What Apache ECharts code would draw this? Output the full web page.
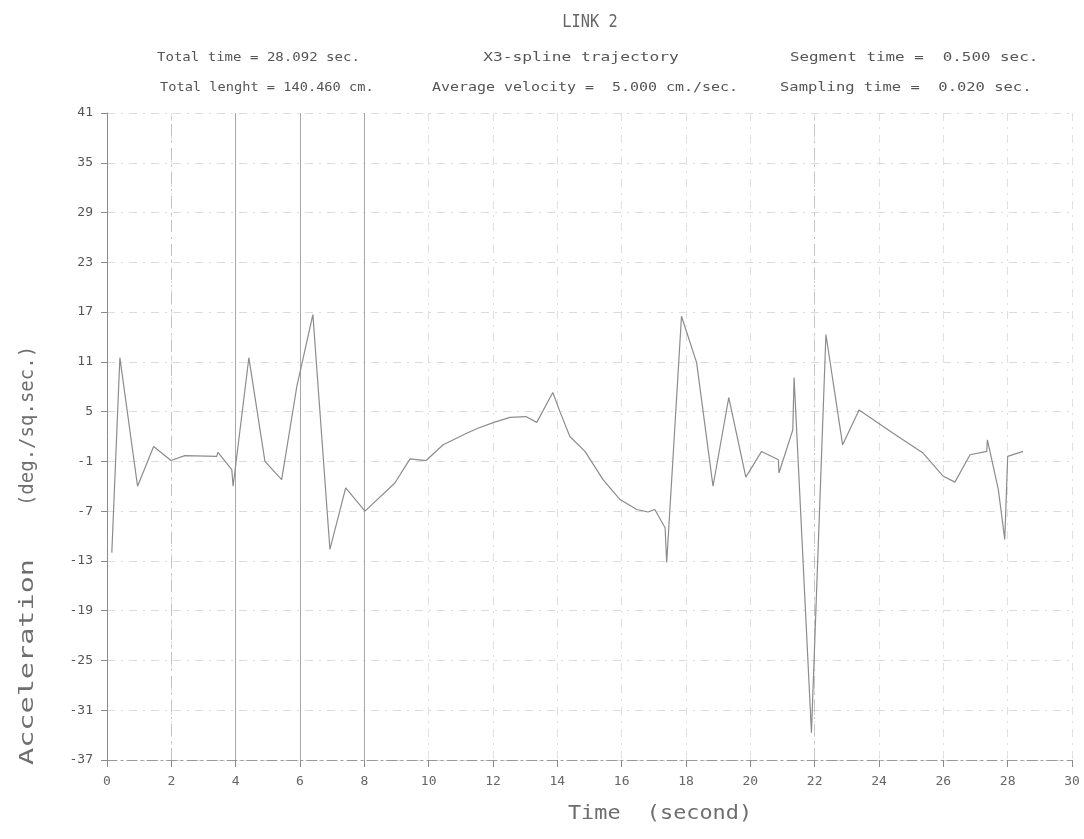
<!DOCTYPE html>
<html>
<head>
<meta charset="utf-8">
<title>LINK 2</title>
<script src="https://cdn.jsdelivr.net/npm/echarts@6/dist/echarts.min.js"></script>
<style>
  html, body { margin: 0; padding: 0; background: #fff; }
  #chart { width: 1084px; height: 839px; }
</style>
</head>
<body>
<div id="chart"></div>
<script>
// Link 2 joint acceleration along an X3-spline trajectory
const timeSec = [0.15, 0.40, 0.95, 1.45, 1.99, 2.42, 3.41, 3.45, 3.88, 3.92,
  4.41, 4.91, 5.43, 5.90, 6.40, 6.93, 7.42, 8.02, 8.95, 9.42,
  9.92, 10.45, 11.18, 11.53, 12.03, 12.53, 13.02, 13.36, 13.86, 14.08,
  14.39, 14.86, 15.42, 15.95, 16.47, 16.82, 17.03, 17.35, 17.40, 17.86,
  18.33, 18.84, 19.33, 19.86, 20.35, 20.87, 20.89, 21.32, 21.36, 21.90,
  22.35, 22.87, 23.38, 24.44, 25.37, 26.00, 26.36, 26.83, 27.35, 27.37,
  27.71, 27.91, 28.00, 28.48];
const accel = [-12.0, 11.5, -4.0, 0.8, -0.9, -0.3, -0.4, 0.1, -2.0, -4.0,
  11.5, -1.0, -3.2, 8.0, 16.7, -11.6, -4.2, -7.0, -3.6, -0.7,
  -0.9, 1.0, 2.4, 3.0, 3.7, 4.3, 4.4, 3.7, 7.3, 5.0,
  2.0, 0.2, -3.2, -5.6, -6.8, -7.1, -6.8, -9.0, -13.2, 16.5,
  10.9, -4.0, 6.7, -2.9, 0.2, -0.8, -2.4, 2.8, 9.1, -33.7,
  14.3, 1.0, 5.2, 2.4, 0.0, -2.8, -3.5, -0.2, 0.2, 1.6,
  -4.4, -10.4, -0.4, 0.2];

const yTicks = [-37, -31, -25, -19, -13, -7, -1, 5, 11, 17, 23, 29, 35, 41];
const xTicks = [0, 2, 4, 6, 8, 10, 12, 14, 16, 18, 20, 22, 24, 26, 28, 30];
const strongVerticals = [4, 6, 8];
const lightVerticals = [2, 22];

const titleText = 'LINK 2';
const headerLeft = ['Total time = 28.092 sec.', 'Total lenght = 140.460 cm.'];
const headerMid = ['X3-spline trajectory', 'Average velocity =  5.000 cm./sec.'];
const headerRight = ['Segment time =  0.500 sec.', 'Sampling time =  0.020 sec.'];
const xName = 'Time  (second)';
const yNameA = 'Acceleration';
const yNameB = '(deg./sq.sec.)';

const MONO = '"DejaVu Sans Mono", "Liberation Mono", monospace';
const points = timeSec.map((t, i) => [t, accel[i]]);

const chart = echarts.init(document.getElementById('chart'), null, { renderer: 'canvas' });

function header(text, x, y, align, sx) {
  return {
    type: 'text', x: x, y: y, scaleX: sx, scaleY: 1,
    style: { text: text, textAlign: align, textVerticalAlign: 'middle',
      fontFamily: MONO, fontSize: 13, fill: '#555' }
  };
}

function axisName(text, x, y, rot, sx) {
  return {
    type: 'text', x: x, y: y, rotation: rot, scaleX: sx, scaleY: 1,
    style: { text: text, textAlign: 'center', textVerticalAlign: 'middle',
      fontFamily: MONO, fontSize: 19, fill: '#6e6e6e' }
  };
}

chart.setOption({
  backgroundColor: '#ffffff',
  animation: false,
  grid: { left: 107, right: 12, top: 113, bottom: 79 },
  xAxis: {
    type: 'value',
    min: 0, max: 30, interval: 2,
    axisLine: { show: true, onZero: false, lineStyle: { color: '#9a9a9a', width: 1, type: [10, 4, 2, 4] } },
    axisTick: { show: true, length: 7, lineStyle: { color: '#8a8a8a' } },
    axisLabel: { color: '#666', fontFamily: MONO, fontSize: 13, margin: 15,
      formatter: v => String(v) },
    splitLine: { show: true, lineStyle: { color: '#e0e0e0', width: 1, type: [8, 6, 2, 6] } }
  },
  yAxis: {
    type: 'value',
    min: -37, max: 41, interval: 6,
    axisLine: { show: true, onZero: false, lineStyle: { color: '#8a8a8a', width: 1 } },
    axisTick: { show: true, length: 6, lineStyle: { color: '#8a8a8a' } },
    axisLabel: { color: '#555', fontFamily: MONO, fontSize: 13, margin: 14,
      formatter: v => String(v) },
    splitLine: { show: true, lineStyle: { color: '#dcdcdc', width: 1, type: [8, 6, 2, 6] } }
  },
  series: [
    {
      type: 'line',
      data: points,
      showSymbol: false,
      lineStyle: { color: '#8c8c8c', width: 1.2 },
      z: 5,
      markLine: {
        silent: true,
        symbol: 'none',
        label: { show: false },
        data: strongVerticals.map(x => ({ xAxis: x, lineStyle: { color: '#a8a8a8', width: 1, type: 'solid' } }))
          .concat(lightVerticals.map(x => ({ xAxis: x, lineStyle: { color: '#c4c4c4', width: 1, type: [12, 5, 2, 5] } })))
      }
    }
  ],
  graphic: [
    { type: 'text', x: 590, y: 22, scaleX: 0.85, scaleY: 1,
      style: { text: titleText, textAlign: 'center', textVerticalAlign: 'middle',
        fontFamily: MONO, fontSize: 18, fill: '#666' } },
    header(headerLeft[0], 157, 58, 'left', 1.08),
    header(headerLeft[1], 160, 88, 'left', 1.05),
    header(headerMid[0], 581, 58, 'center', 1.25),
    header(headerMid[1], 585, 88, 'center', 1.15),
    header(headerRight[0], 790, 58, 'left', 1.22),
    header(headerRight[1], 780, 88, 'left', 1.19),
    axisName(xName, 660, 814, 0, 1.15),
    axisName(yNameA, 28, 662, Math.PI / 2, 1.5),
    axisName(yNameB, 28, 426, Math.PI / 2, 1.0)
  ]
});
</script>
</body>
</html>
